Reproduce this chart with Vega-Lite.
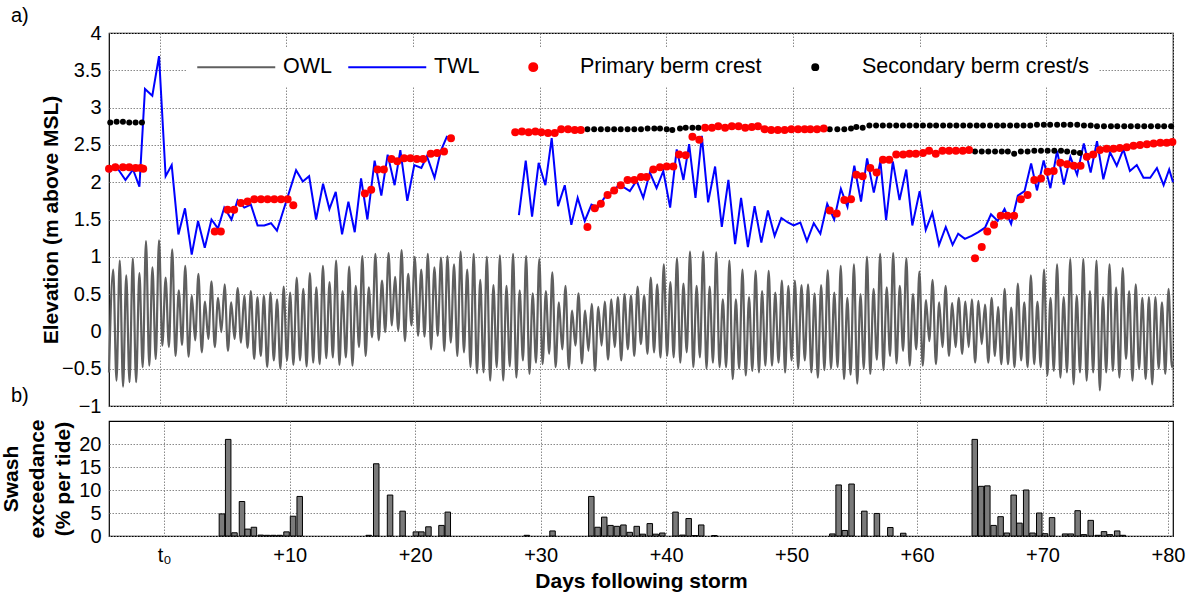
{
"$schema": "https://vega.github.io/schema/vega-lite/v6.json",
"background": "white",
"padding": {"left": 0, "top": 5, "right": 5, "bottom": 3},
"bounds": "flush",
"spacing": 15,
"datasets": {
"owl": [{"d":-4,"h":-0.55},
{"d":-3.67,"h":0.83},{"d":-3.41,"h":-0.66},{"d":-3.15,"h":0.95},{"d":-2.89,"h":-0.74},{"d":-2.64,"h":0.75},{"d":-2.38,"h":-0.68},{"d":-2.12,"h":0.98},{"d":-1.86,"h":-0.68},{"d":-1.6,"h":0.78},{"d":-1.34,"h":-0.48},{"d":-1.08,"h":1.21},{"d":-0.82,"h":-0.46},{"d":-0.57,"h":0.86},{"d":-0.31,"h":-0.37},{"d":-0.05,"h":1.22},{"d":0.21,"h":-0.19},{"d":0.47,"h":0.72},{"d":0.73,"h":-0.21},{"d":0.99,"h":1.1},{"d":1.25,"h":-0.33},{"d":1.51,"h":0.55},{"d":1.77,"h":-0.18},{"d":2.02,"h":0.88},{"d":2.28,"h":-0.34},{"d":2.54,"h":0.48},{"d":2.8,"h":-0.12},{"d":3.06,"h":0.77},{"d":3.32,"h":-0.28},{"d":3.58,"h":0.4},{"d":3.84,"h":-0.1},{"d":4.09,"h":0.67},{"d":4.35,"h":-0.21},{"d":4.61,"h":0.45},{"d":4.87,"h":-0.01},{"d":5.13,"h":0.63},{"d":5.39,"h":-0.26},{"d":5.65,"h":0.39},{"d":5.91,"h":-0.1},{"d":6.16,"h":0.58},{"d":6.42,"h":-0.15},{"d":6.68,"h":0.48},{"d":6.94,"h":-0.22},{"d":7.2,"h":0.54},{"d":7.46,"h":-0.37},{"d":7.72,"h":0.46},{"d":7.98,"h":-0.33},{"d":8.23,"h":0.48},{"d":8.49,"h":-0.48},{"d":8.75,"h":0.52},{"d":9.01,"h":-0.39},{"d":9.27,"h":0.43},{"d":9.53,"h":-0.5},{"d":9.79,"h":0.6},{"d":10.05,"h":-0.39},{"d":10.3,"h":0.52},{"d":10.56,"h":-0.45},{"d":10.82,"h":0.72},{"d":11.08,"h":-0.39},{"d":11.34,"h":0.57},{"d":11.6,"h":-0.47},{"d":11.86,"h":0.78},{"d":12.12,"h":-0.42},{"d":12.37,"h":0.59},{"d":12.63,"h":-0.44},{"d":12.89,"h":0.88},{"d":13.15,"h":-0.36},{"d":13.41,"h":0.66},{"d":13.67,"h":-0.35},{"d":13.93,"h":0.95},{"d":14.19,"h":-0.45},{"d":14.44,"h":0.54},{"d":14.7,"h":-0.35},{"d":14.96,"h":0.87},{"d":15.22,"h":-0.46},{"d":15.48,"h":0.61},{"d":15.74,"h":-0.21},{"d":16,"h":1.01},{"d":16.26,"h":-0.33},{"d":16.51,"h":0.59},{"d":16.77,"h":-0.08},{"d":17.03,"h":1.04},{"d":17.29,"h":-0.12},{"d":17.55,"h":0.68},{"d":17.81,"h":-0.01},{"d":18.07,"h":1.05},{"d":18.33,"h":0.08},{"d":18.58,"h":0.73},{"d":18.84,"h":0.01},{"d":19.1,"h":1.09},{"d":19.36,"h":-0.13},{"d":19.62,"h":0.77},{"d":19.88,"h":0.08},{"d":20.14,"h":1},{"d":20.4,"h":-0.06},{"d":20.65,"h":0.83},{"d":20.91,"h":-0.07},{"d":21.17,"h":1.04},{"d":21.43,"h":-0.24},{"d":21.69,"h":0.86},{"d":21.95,"h":-0.06},{"d":22.21,"h":0.99},{"d":22.47,"h":-0.26},{"d":22.72,"h":1.01},{"d":22.98,"h":-0.15},{"d":23.24,"h":0.9},{"d":23.5,"h":-0.33},{"d":23.76,"h":1.07},{"d":24.02,"h":-0.28},{"d":24.28,"h":0.83},{"d":24.54,"h":-0.48},{"d":24.79,"h":1.04},{"d":25.05,"h":-0.56},{"d":25.31,"h":0.69},{"d":25.57,"h":-0.55},{"d":25.83,"h":1},{"d":26.09,"h":-0.66},{"d":26.35,"h":0.62},{"d":26.61,"h":-0.48},{"d":26.86,"h":1.02},{"d":27.12,"h":-0.66},{"d":27.38,"h":0.61},{"d":27.64,"h":-0.47},{"d":27.9,"h":1.04},{"d":28.16,"h":-0.62},{"d":28.42,"h":0.55},{"d":28.68,"h":-0.39},{"d":28.93,"h":1.01},{"d":29.19,"h":-0.57},{"d":29.45,"h":0.51},{"d":29.71,"h":-0.42},{"d":29.97,"h":0.97},{"d":30.23,"h":-0.44},{"d":30.49,"h":0.54},{"d":30.75,"h":-0.3},{"d":31,"h":0.79},{"d":31.26,"h":-0.48},{"d":31.52,"h":0.39},{"d":31.78,"h":-0.24},{"d":32.04,"h":0.61},{"d":32.3,"h":-0.5},{"d":32.56,"h":0.28},{"d":32.82,"h":-0.19},{"d":33.07,"h":0.51},{"d":33.33,"h":-0.43},{"d":33.59,"h":0.28},{"d":33.85,"h":-0.26},{"d":34.11,"h":0.37},{"d":34.37,"h":-0.53},{"d":34.63,"h":0.33},{"d":34.89,"h":-0.19},{"d":35.14,"h":0.4},{"d":35.4,"h":-0.38},{"d":35.66,"h":0.43},{"d":35.92,"h":-0.21},{"d":36.18,"h":0.46},{"d":36.44,"h":-0.39},{"d":36.7,"h":0.5},{"d":36.96,"h":-0.24},{"d":37.21,"h":0.48},{"d":37.47,"h":-0.33},{"d":37.73,"h":0.6},{"d":37.99,"h":-0.17},{"d":38.25,"h":0.48},{"d":38.51,"h":-0.3},{"d":38.77,"h":0.72},{"d":39.03,"h":-0.28},{"d":39.28,"h":0.63},{"d":39.54,"h":-0.35},{"d":39.8,"h":0.9},{"d":40.06,"h":-0.33},{"d":40.32,"h":0.66},{"d":40.58,"h":-0.35},{"d":40.84,"h":0.98},{"d":41.1,"h":-0.42},{"d":41.35,"h":0.64},{"d":41.61,"h":-0.28},{"d":41.87,"h":1.07},{"d":42.13,"h":-0.48},{"d":42.39,"h":0.61},{"d":42.65,"h":-0.35},{"d":42.91,"h":1.07},{"d":43.17,"h":-0.5},{"d":43.42,"h":0.6},{"d":43.68,"h":-0.42},{"d":43.94,"h":1.06},{"d":44.2,"h":-0.48},{"d":44.46,"h":0.43},{"d":44.72,"h":-0.48},{"d":44.98,"h":0.95},{"d":45.24,"h":-0.64},{"d":45.49,"h":0.43},{"d":45.75,"h":-0.5},{"d":46.01,"h":0.83},{"d":46.27,"h":-0.59},{"d":46.53,"h":0.46},{"d":46.79,"h":-0.53},{"d":47.05,"h":0.81},{"d":47.31,"h":-0.55},{"d":47.56,"h":0.54},{"d":47.82,"h":-0.46},{"d":48.08,"h":0.81},{"d":48.34,"h":-0.46},{"d":48.6,"h":0.52},{"d":48.86,"h":-0.42},{"d":49.12,"h":0.68},{"d":49.38,"h":-0.55},{"d":49.63,"h":0.61},{"d":49.89,"h":-0.39},{"d":50.15,"h":0.68},{"d":50.41,"h":-0.5},{"d":50.67,"h":0.62},{"d":50.93,"h":-0.39},{"d":51.19,"h":0.63},{"d":51.45,"h":-0.55},{"d":51.7,"h":0.51},{"d":51.96,"h":-0.62},{"d":52.22,"h":0.62},{"d":52.48,"h":-0.52},{"d":52.74,"h":0.82},{"d":53,"h":-0.5},{"d":53.26,"h":0.52},{"d":53.52,"h":-0.48},{"d":53.77,"h":0.88},{"d":54.03,"h":-0.64},{"d":54.29,"h":0.45},{"d":54.55,"h":-0.58},{"d":54.81,"h":0.9},{"d":55.07,"h":-0.7},{"d":55.33,"h":0.5},{"d":55.59,"h":-0.5},{"d":55.84,"h":1},{"d":56.1,"h":-0.57},{"d":56.36,"h":0.57},{"d":56.62,"h":-0.38},{"d":56.88,"h":1.04},{"d":57.14,"h":-0.52},{"d":57.4,"h":0.59},{"d":57.66,"h":-0.33},{"d":57.91,"h":1.05},{"d":58.17,"h":-0.43},{"d":58.43,"h":0.61},{"d":58.69,"h":-0.26},{"d":58.95,"h":0.98},{"d":59.21,"h":-0.46},{"d":59.47,"h":0.5},{"d":59.73,"h":-0.24},{"d":59.98,"h":0.8},{"d":60.24,"h":-0.46},{"d":60.5,"h":0.42},{"d":60.76,"h":-0.13},{"d":61.02,"h":0.69},{"d":61.28,"h":-0.44},{"d":61.54,"h":0.39},{"d":61.8,"h":-0.21},{"d":62.05,"h":0.61},{"d":62.31,"h":-0.33},{"d":62.57,"h":0.38},{"d":62.83,"h":-0.21},{"d":63.09,"h":0.45},{"d":63.35,"h":-0.3},{"d":63.61,"h":0.4},{"d":63.87,"h":-0.21},{"d":64.12,"h":0.43},{"d":64.38,"h":-0.42},{"d":64.64,"h":0.41},{"d":64.9,"h":-0.17},{"d":65.16,"h":0.36},{"d":65.42,"h":-0.42},{"d":65.68,"h":0.45},{"d":65.94,"h":-0.33},{"d":66.19,"h":0.33},{"d":66.45,"h":-0.44},{"d":66.71,"h":0.57},{"d":66.97,"h":-0.44},{"d":67.23,"h":0.32},{"d":67.49,"h":-0.48},{"d":67.75,"h":0.64},{"d":68.01,"h":-0.39},{"d":68.26,"h":0.39},{"d":68.52,"h":-0.48},{"d":68.78,"h":0.75},{"d":69.04,"h":-0.44},{"d":69.3,"h":0.4},{"d":69.56,"h":-0.48},{"d":69.82,"h":0.83},{"d":70.08,"h":-0.59},{"d":70.33,"h":0.45},{"d":70.59,"h":-0.53},{"d":70.85,"h":0.9},{"d":71.11,"h":-0.62},{"d":71.37,"h":0.46},{"d":71.63,"h":-0.55},{"d":71.89,"h":0.97},{"d":72.15,"h":-0.71},{"d":72.4,"h":0.48},{"d":72.66,"h":-0.55},{"d":72.92,"h":0.97},{"d":73.18,"h":-0.66},{"d":73.44,"h":0.54},{"d":73.7,"h":-0.55},{"d":73.96,"h":0.95},{"d":74.22,"h":-0.79},{"d":74.47,"h":0.46},{"d":74.73,"h":-0.55},{"d":74.99,"h":0.9},{"d":75.25,"h":-0.53},{"d":75.51,"h":0.59},{"d":75.77,"h":-0.62},{"d":76.03,"h":0.85},{"d":76.29,"h":-0.37},{"d":76.54,"h":0.54},{"d":76.8,"h":-0.66},{"d":77.06,"h":0.63},{"d":77.32,"h":-0.5},{"d":77.58,"h":0.45},{"d":77.84,"h":-0.64},{"d":78.1,"h":0.46},{"d":78.36,"h":-0.71},{"d":78.61,"h":0.46},{"d":78.87,"h":-0.5},{"d":79.13,"h":0.39},{"d":79.39,"h":-0.57},{"d":79.65,"h":0.57},{"d":79.91,"h":-0.48},{"d":80,"h":-0.4}],
"twl": [{"d":-4,"h":2.13,"s":1},{"d":-3.5,"h":2.23,"s":1},{"d":-2.7,"h":2.03,"s":1},{"d":-2.1,"h":2.17,"s":1},{"d":-1.6,"h":1.94,"s":1},{"d":-1.16,"h":3.25,"s":1},{"d":-0.58,"h":3.16,"s":1},{"d":-0.05,"h":3.69,"s":1},{"d":0.47,"h":2.08,"s":1},{"d":0.95,"h":2.23,"s":1},{"d":1.48,"h":1.3,"s":1},{"d":2,"h":1.65,"s":1},{"d":2.53,"h":1.03,"s":1},{"d":3.03,"h":1.48,"s":1},{"d":3.56,"h":1.12,"s":1},{"d":4.09,"h":1.5,"s":1},{"d":4.6,"h":1.38,"s":1},{"d":5.1,"h":1.66,"s":1},{"d":5.67,"h":1.5,"s":1},{"d":6.15,"h":1.76,"s":1},{"d":6.68,"h":1.66,"s":1},{"d":7.2,"h":1.7,"s":1},{"d":7.73,"h":1.42,"s":1},{"d":8.26,"h":1.42,"s":1},{"d":8.79,"h":1.45,"s":1},{"d":9.26,"h":1.35,"s":1},{"d":10.77,"h":2.16,"s":1},{"d":11.3,"h":2.01,"s":1},{"d":11.8,"h":2.08,"s":1},{"d":12.35,"h":1.5,"s":1},{"d":12.9,"h":1.98,"s":1},{"d":13.4,"h":1.64,"s":1},{"d":13.9,"h":1.87,"s":1},{"d":14.4,"h":1.3,"s":1},{"d":14.9,"h":1.74,"s":1},{"d":15.4,"h":1.33,"s":1},{"d":15.9,"h":2.05,"s":1},{"d":16.4,"h":1.5,"s":1},{"d":16.97,"h":2.29,"s":1},{"d":17.5,"h":1.82,"s":1},{"d":18,"h":2.37,"s":1},{"d":18.55,"h":1.96,"s":1},{"d":19,"h":2.43,"s":1},{"d":19.55,"h":1.75,"s":1},{"d":20.1,"h":2.23,"s":1},{"d":20.66,"h":2.19,"s":1},{"d":21.1,"h":2.35,"s":1},{"d":21.7,"h":2.06,"s":1},{"d":22.2,"h":2.42,"s":1},{"d":22.7,"h":2.62,"s":1},
{"d":28.36,"h":1.56,"s":2},{"d":28.9,"h":2.29,"s":2},{"d":29.4,"h":1.54,"s":2},{"d":29.92,"h":2.26,"s":2},{"d":30.45,"h":1.96,"s":2},{"d":30.95,"h":2.59,"s":2},{"d":31.45,"h":1.68,"s":2},{"d":31.98,"h":1.96,"s":2},{"d":32.5,"h":1.43,"s":2},{"d":33,"h":1.79,"s":2},{"d":33.56,"h":1.48,"s":2},{"d":34.09,"h":1.7,"s":2},{"d":34.6,"h":1.66,"s":2},{"d":35.14,"h":1.8,"s":2},{"d":35.66,"h":1.86,"s":2},{"d":36.2,"h":1.95,"s":2},{"d":36.66,"h":1.93,"s":2},{"d":37.12,"h":1.88,"s":2},{"d":37.65,"h":2.02,"s":2},{"d":38.18,"h":1.79,"s":2},{"d":38.7,"h":2.13,"s":2},{"d":39.23,"h":1.92,"s":2},{"d":39.76,"h":2.15,"s":2},{"d":40.3,"h":1.66,"s":2},{"d":40.82,"h":2.44,"s":2},{"d":41.35,"h":2.03,"s":2},{"d":41.8,"h":2.51,"s":2},{"d":42.3,"h":1.79,"s":2},{"d":42.8,"h":2.62,"s":2},{"d":43.3,"h":1.73,"s":2},{"d":43.85,"h":2.21,"s":2},{"d":44.38,"h":1.4,"s":2},{"d":44.9,"h":2.03,"s":2},{"d":45.43,"h":1.17,"s":2},{"d":45.9,"h":1.79,"s":2},{"d":46.44,"h":1.13,"s":2},{"d":46.97,"h":1.68,"s":2},{"d":47.5,"h":1.19,"s":2},{"d":48.02,"h":1.62,"s":2},{"d":48.55,"h":1.28,"s":2},{"d":49.08,"h":1.52,"s":2},{"d":49.6,"h":1.46,"s":2},{"d":50.05,"h":1.42,"s":2},{"d":50.58,"h":1.46,"s":2},{"d":51.1,"h":1.21,"s":2},{"d":51.64,"h":1.45,"s":2},{"d":52.16,"h":1.31,"s":2},{"d":52.7,"h":1.71,"s":2},{"d":53.25,"h":1.5,"s":2},{"d":53.78,"h":1.91,"s":2},{"d":54.3,"h":1.67,"s":2},{"d":54.84,"h":2.22,"s":2},{"d":55.37,"h":1.74,"s":2},{"d":55.85,"h":2.32,"s":2},{"d":56.38,"h":1.86,"s":2},{"d":56.9,"h":2.28,"s":2},{"d":57.35,"h":1.49,"s":2},{"d":57.88,"h":2.28,"s":2},{"d":58.41,"h":1.76,"s":2},{"d":58.94,"h":2.17,"s":2},{"d":59.42,"h":1.42,"s":2},{"d":60,"h":1.88,"s":2},{"d":60.48,"h":1.36,"s":2},{"d":61,"h":1.59,"s":2},{"d":61.53,"h":1.16,"s":2},{"d":62.06,"h":1.4,"s":2},{"d":62.6,"h":1.16,"s":2},{"d":63.04,"h":1.31,"s":2},{"d":63.57,"h":1.24,"s":2},{"d":64.1,"h":1.28,"s":2},{"d":64.63,"h":1.33,"s":2},{"d":65.16,"h":1.39,"s":2},{"d":65.63,"h":1.57,"s":2},{"d":66.16,"h":1.48,"s":2},{"d":66.7,"h":1.64,"s":2},{"d":67.22,"h":1.44,"s":2},{"d":67.75,"h":1.82,"s":2},{"d":68.28,"h":1.88,"s":2},{"d":68.8,"h":2.25,"s":2},{"d":69.26,"h":1.89,"s":2},{"d":69.79,"h":2.29,"s":2},{"d":70.32,"h":1.92,"s":2},{"d":70.85,"h":2.42,"s":2},{"d":71.38,"h":1.97,"s":2},{"d":71.9,"h":2.34,"s":2},{"d":72.43,"h":2.1,"s":2},{"d":72.96,"h":2.52,"s":2},{"d":73.5,"h":2.13,"s":2},{"d":74,"h":2.55,"s":2},{"d":74.5,"h":2.04,"s":2},{"d":75.03,"h":2.4,"s":2},{"d":75.56,"h":2.22,"s":2},{"d":76.08,"h":2.44,"s":2},{"d":76.6,"h":2.15,"s":2},{"d":77.14,"h":2.23,"s":2},{"d":77.67,"h":2.06,"s":2},{"d":78.2,"h":2.06,"s":2},{"d":78.73,"h":2.19,"s":2},{"d":79.26,"h":1.96,"s":2},{"d":79.7,"h":2.17,"s":2},{"d":80,"h":2,"s":2}],
"pri": [{"d":-4,"h":2.18},{"d":-3.5,"h":2.2},{"d":-2.9,"h":2.2},{"d":-2.4,"h":2.2},{"d":-1.9,"h":2.19},{"d":-1.5,"h":2.19},{"d":-1.3,"h":2.18},
{"d":4.35,"h":1.34},{"d":4.83,"h":1.34},{"d":5.36,"h":1.63},{"d":5.88,"h":1.63},{"d":6.41,"h":1.72},{"d":6.94,"h":1.74},{"d":7.47,"h":1.77},{"d":8,"h":1.77},{"d":8.52,"h":1.77},{"d":9.05,"h":1.77},{"d":9.58,"h":1.77},{"d":10.1,"h":1.77},{"d":10.55,"h":1.69},
{"d":16.2,"h":1.85},{"d":16.7,"h":1.9},{"d":17.2,"h":2.17},{"d":17.7,"h":2.17},{"d":18.3,"h":2.31},{"d":18.76,"h":2.28},{"d":19.3,"h":2.32},{"d":19.8,"h":2.32},{"d":20.3,"h":2.31},{"d":20.8,"h":2.31},{"d":21.4,"h":2.38},{"d":21.9,"h":2.39},{"d":22.45,"h":2.41},{"d":23,"h":2.59},
{"d":28.07,"h":2.67},{"d":28.6,"h":2.68},{"d":29.13,"h":2.67},{"d":29.66,"h":2.68},{"d":30.13,"h":2.67},{"d":30.66,"h":2.66},{"d":31.19,"h":2.66},{"d":31.7,"h":2.71},{"d":32.24,"h":2.71},{"d":32.77,"h":2.7},{"d":33.25,"h":2.7},
{"d":33.77,"h":1.4},{"d":34.35,"h":1.65},{"d":34.83,"h":1.71},{"d":35.36,"h":1.83},{"d":35.88,"h":1.89},{"d":36.4,"h":1.96},{"d":36.94,"h":2.03},{"d":37.47,"h":2.03},{"d":38,"h":2.07},{"d":38.44,"h":2.07},{"d":38.97,"h":2.17},{"d":39.5,"h":2.2},{"d":40.03,"h":2.21},{"d":40.55,"h":2.21},{"d":41,"h":2.37},{"d":41.53,"h":2.36},{"d":42.06,"h":2.61},{"d":42.6,"h":2.57},
{"d":43.06,"h":2.73},{"d":43.6,"h":2.73},{"d":44.1,"h":2.75},{"d":44.64,"h":2.73},{"d":45.17,"h":2.75},{"d":45.7,"h":2.75},{"d":46.23,"h":2.73},{"d":46.75,"h":2.74},{"d":47.23,"h":2.75},{"d":47.76,"h":2.71},{"d":48.28,"h":2.7},{"d":48.8,"h":2.7},{"d":49.34,"h":2.7},{"d":49.87,"h":2.71},{"d":50.4,"h":2.71},{"d":50.92,"h":2.71},{"d":51.37,"h":2.71},{"d":51.9,"h":2.71},{"d":52.43,"h":2.72},
{"d":52.9,"h":1.62},{"d":53.45,"h":1.58},{"d":54.05,"h":1.76},{"d":54.58,"h":1.77},{"d":55,"h":2.1},{"d":55.5,"h":2.08},{"d":56.1,"h":2.19},{"d":56.6,"h":2.13},{"d":57.1,"h":2.3},{"d":57.6,"h":2.3},{"d":58.15,"h":2.37},{"d":58.7,"h":2.37},{"d":59.2,"h":2.38},{"d":59.7,"h":2.38},{"d":60.26,"h":2.39},{"d":60.74,"h":2.42},{"d":61.27,"h":2.38},{"d":61.8,"h":2.42},{"d":62.33,"h":2.42},{"d":62.86,"h":2.42},{"d":63.4,"h":2.42},{"d":63.9,"h":2.43},
{"d":64.37,"h":0.98},{"d":64.9,"h":1.13},{"d":65.34,"h":1.34},{"d":65.87,"h":1.43},{"d":66.4,"h":1.55},{"d":66.93,"h":1.55},{"d":67.46,"h":1.55},{"d":67.99,"h":1.77},{"d":68.52,"h":1.83},{"d":69.05,"h":2.03},{"d":69.58,"h":2.05},{"d":70.1,"h":2.14},{"d":70.58,"h":2.15},{"d":71.1,"h":2.26},{"d":71.64,"h":2.24},{"d":72.17,"h":2.22},{"d":72.7,"h":2.22},{"d":73.2,"h":2.34},{"d":73.7,"h":2.37},{"d":74.23,"h":2.43},{"d":74.76,"h":2.45},{"d":75.3,"h":2.45},{"d":75.8,"h":2.46},{"d":76.35,"h":2.47},{"d":76.88,"h":2.49},{"d":77.4,"h":2.5},{"d":77.94,"h":2.51},{"d":78.47,"h":2.52},{"d":79,"h":2.53},{"d":79.5,"h":2.53},{"d":79.95,"h":2.54}],
"sec": [{"d":-3.9,"h":2.8},{"d":-3.4,"h":2.81},{"d":-2.9,"h":2.81},{"d":-2.4,"h":2.8},{"d":-1.9,"h":2.8},{"d":-1.4,"h":2.8},
{"d":33.77,"h":2.71},{"d":34.3,"h":2.71},{"d":34.83,"h":2.71},{"d":35.36,"h":2.71},{"d":35.88,"h":2.71},{"d":36.4,"h":2.71},{"d":36.94,"h":2.71},{"d":37.47,"h":2.71},{"d":38,"h":2.71},{"d":38.52,"h":2.72},{"d":39.05,"h":2.72},{"d":39.5,"h":2.72},{"d":40.03,"h":2.71},{"d":40.47,"h":2.7},{"d":41.08,"h":2.72},{"d":41.53,"h":2.73},{"d":42.06,"h":2.73},{"d":42.53,"h":2.73},
{"d":52.9,"h":2.71},{"d":53.5,"h":2.71},{"d":54.05,"h":2.71},{"d":54.58,"h":2.72},{"d":55,"h":2.74},{"d":55.5,"h":2.73},
{"d":56.03,"h":2.76},{"d":56.56,"h":2.76},{"d":57.09,"h":2.76},{"d":57.62,"h":2.76},{"d":58.15,"h":2.76},{"d":58.68,"h":2.76},{"d":59.2,"h":2.76},{"d":59.73,"h":2.76},{"d":60.26,"h":2.76},{"d":60.8,"h":2.76},{"d":61.3,"h":2.76},{"d":61.85,"h":2.76},{"d":62.38,"h":2.76},{"d":62.9,"h":2.76},{"d":63.44,"h":2.76},{"d":63.97,"h":2.76},{"d":64.5,"h":2.76},{"d":65,"h":2.76},{"d":65.56,"h":2.76},{"d":66.1,"h":2.76},{"d":66.6,"h":2.76},{"d":67.14,"h":2.76},{"d":67.67,"h":2.76},{"d":68.2,"h":2.76},{"d":68.73,"h":2.76},{"d":69.26,"h":2.77},{"d":69.8,"h":2.77},{"d":70.3,"h":2.77},{"d":70.85,"h":2.77},{"d":71.38,"h":2.77},{"d":71.9,"h":2.77},{"d":72.44,"h":2.77},{"d":72.97,"h":2.76},{"d":73.5,"h":2.76},{"d":74,"h":2.75},{"d":74.55,"h":2.75},{"d":75.1,"h":2.75},{"d":75.6,"h":2.75},{"d":76.15,"h":2.75},{"d":76.67,"h":2.75},{"d":77.2,"h":2.75},{"d":77.73,"h":2.75},{"d":78.26,"h":2.75},{"d":78.8,"h":2.75},{"d":79.3,"h":2.75},{"d":79.85,"h":2.75},
{"d":64.37,"h":2.41},{"d":64.9,"h":2.41},{"d":65.42,"h":2.41},{"d":65.95,"h":2.41},{"d":66.48,"h":2.41},{"d":66.96,"h":2.41},{"d":67.46,"h":2.38},{"d":67.99,"h":2.41},{"d":68.52,"h":2.41},{"d":69.05,"h":2.42},{"d":69.58,"h":2.42},{"d":70.1,"h":2.42},{"d":70.63,"h":2.42},{"d":71.16,"h":2.42},{"d":71.64,"h":2.41},{"d":72.17,"h":2.4},{"d":72.65,"h":2.39}],
"swash": [{"d":4.6,"v":4.8},{"d":5.1,"v":21},{"d":5.6,"v":0.7},{"d":6.2,"v":7.5},{"d":6.65,"v":1.5},{"d":7.15,"v":1.9},{"d":7.7,"v":0.2},{"d":8.2,"v":0.15},{"d":8.7,"v":0.15},{"d":9.2,"v":0.15},{"d":9.75,"v":0.9},{"d":10.27,"v":4.3},{"d":10.8,"v":8.6},
{"d":16.3,"v":0.15},{"d":16.9,"v":15.7},{"d":18,"v":8.9},{"d":19,"v":5.4},{"d":20.06,"v":0.9},{"d":20.5,"v":0.9},{"d":21.06,"v":2},{"d":22.1,"v":2.3},{"d":22.6,"v":5.2},
{"d":28.9,"v":0.15},{"d":30.95,"v":1.1},{"d":34.04,"v":8.6},{"d":34.54,"v":1.9},{"d":35.07,"v":4.1},{"d":35.57,"v":2.3},{"d":36.08,"v":2.1},{"d":36.6,"v":2.4},{"d":37.1,"v":0.8},{"d":37.66,"v":2.1},{"d":38.14,"v":0.4},{"d":38.7,"v":2.7},{"d":39.17,"v":0.4},{"d":39.7,"v":0.65},{"d":40.75,"v":5.2},{"d":41.3,"v":0.2},{"d":41.8,"v":3.8},{"d":42.3,"v":0.1},{"d":42.8,"v":2.4},{"d":43.85,"v":0.1},
{"d":53.25,"v":0.45},{"d":53.75,"v":11.1},{"d":54.25,"v":1.2},{"d":54.78,"v":11.3},{"d":55.8,"v":5.4},{"d":56.8,"v":4.9},{"d":57.87,"v":1.85},{"d":58.9,"v":0.6},
{"d":64.6,"v":21},{"d":65.1,"v":10.8},{"d":65.6,"v":10.9},{"d":66.1,"v":2.3},{"d":66.66,"v":4.2},{"d":67.16,"v":0.65},{"d":67.7,"v":8.9},{"d":68.16,"v":2.8},{"d":68.7,"v":10},{"d":69.2,"v":0.65},{"d":69.74,"v":5},{"d":70.2,"v":0.5},{"d":70.76,"v":4},{"d":71.8,"v":0.45},{"d":72.26,"v":0.45},{"d":72.8,"v":5.5},{"d":73.3,"v":0.3},{"d":73.84,"v":3.4},{"d":74.4,"v":0.15},{"d":74.9,"v":0.95},{"d":75.37,"v":0.3},{"d":75.95,"v":1.1},{"d":76.4,"v":0.15}]
},
"vconcat": [
{
"width": 1064, "height": 373,
"title": {"text": "a)", "anchor": "start", "frame": "group", "dx": -98, "offset": -19, "baseline": "alphabetic", "fontSize": 20, "fontWeight": "normal", "font": "Liberation Sans", "color": "#000"},
"layer": [
{"data": {"name": "owl"},
 "mark": {"type": "line", "strokeWidth": 2.2, "interpolate": "monotone"},
 "encoding": {
  "x": {"field": "d", "type": "quantitative", "scale": {"domain": [-4, 80], "nice": false, "zero": false},
        "axis": {"values": [0,10,20,30,40,50,60,70,80], "tickCount": 30, "labels": false, "title": null, "grid": true}},
  "y": {"field": "h", "type": "quantitative", "scale": {"domain": [-1, 4], "nice": false, "zero": false},
        "axis": {"values": [-1,-0.5,0,0.5,1,1.5,2,2.5,3,3.5,4], "tickCount": 30, "format": "~g", "labelOverlap": false, "title": "Elevation (m above MSL)", "titlePadding": 0, "grid": true}},
  "color": {"datum": "OWL", "type": "nominal",
    "scale": {"domain": ["OWL", "TWL", "Primary berm crest", "Secondary berm crest/s"], "range": ["#5f5f5f", "#0000ff", "#ff0000", "#000000"]},
    "legend": {"title": null, "orient": "none", "legendX": 78, "legendY": 15, "direction": "horizontal",
      "symbolSize": 324, "symbolStrokeWidth": 2, "symbolOffset": 30.5, "labelFontSize": 21.5, "labelOffset": 36, "columnPadding": 12,
      "padding": 8, "fillColor": "#ffffff", "labelColor": "#000", "labelFont": "Liberation Sans", "labelLimit": 0,
      "encode": {"symbols": {"update": {
        "shape": {"signal": "datum.value == 'OWL' || datum.value == 'TWL' ? 'M-4.333,0H4.333' : (datum.value == 'Primary berm crest' ? 'M0.444,0A0.444,0.444,0,1,1,-0.444,0A0.444,0.444,0,1,1,0.444,0Z' : 'M0.333,0A0.333,0.333,0,1,1,-0.333,0A0.333,0.333,0,1,1,0.333,0Z')"},
        "fill": {"signal": "datum.value == 'Primary berm crest' ? '#ff0000' : (datum.value == 'Secondary berm crest/s' ? '#000000' : 'transparent')"},
        "stroke": {"signal": "datum.value == 'OWL' ? '#5f5f5f' : (datum.value == 'TWL' ? '#0000ff' : 'transparent')"},
        "strokeWidth": {"value": 2},
        "opacity": {"value": 1}
      }}}}}
 }},
{"data": {"name": "twl"},
 "mark": {"type": "line", "strokeWidth": 2},
 "encoding": {
  "x": {"field": "d", "type": "quantitative"},
  "y": {"field": "h", "type": "quantitative"},
  "detail": {"field": "s", "type": "nominal"},
  "color": {"datum": "TWL", "type": "nominal"}
 }},
{"data": {"name": "sec"},
 "mark": {"type": "point", "filled": true, "shape": "circle", "size": 36, "opacity": 1},
 "encoding": {
  "x": {"field": "d", "type": "quantitative"},
  "y": {"field": "h", "type": "quantitative"},
  "color": {"datum": "Secondary berm crest/s", "type": "nominal"}
 }},
{"data": {"name": "pri"},
 "mark": {"type": "point", "filled": true, "shape": "circle", "size": 64, "opacity": 1},
 "encoding": {
  "x": {"field": "d", "type": "quantitative"},
  "y": {"field": "h", "type": "quantitative"},
  "color": {"datum": "Primary berm crest", "type": "nominal"}
 }}
]
},
{
"width": 1064, "height": 115,
"title": {"text": "b)", "anchor": "start", "frame": "group", "dx": -98, "offset": -3, "baseline": "alphabetic", "fontSize": 20, "fontWeight": "normal", "font": "Liberation Sans", "color": "#000"},
"data": {"name": "swash"},
"mark": {"type": "bar", "orient": "vertical", "size": 5.5, "fill": "#7a7a7a", "stroke": "#000", "strokeWidth": 1},
"encoding": {
  "x": {"field": "d", "type": "quantitative", "scale": {"domain": [-4, 80], "nice": false, "zero": false},
        "axis": {"values": [0,10,20,30,40,50,60,70,80], "tickCount": 30, "labelExpr": "datum.value == 0 ? 't₀' : '+' + datum.value", "labelOverlap": false, "title": "Days following storm", "labelPadding": 9, "titlePadding": 5, "grid": true}},
  "y": {"field": "v", "type": "quantitative", "scale": {"domain": [0, 25], "nice": false, "zero": true},
        "axis": {"values": [0,5,10,15,20], "tickCount": 30, "labelOverlap": false, "title": ["Swash", "exceedance", "(% per tide)"], "titleLineHeight": 26, "titlePadding": 5, "grid": true}}
}
}
],
"config": {
  "font": "Liberation Sans",
  "view": {"stroke": "#000", "strokeWidth": 1.2},
  "axis": {"labelFontSize": 20, "titleFontSize": 21, "titleFontWeight": "bold", "labelColor": "#000", "titleColor": "#000",
           "gridColor": "#8a8a8a", "gridDash": [1.5, 1.5], "gridWidth": 1, "ticks": false, "domain": false, "labelPadding": 8,
           "labelOverlap": false, "labelFlush": false, "labelBound": false,
           "labelFont": "Liberation Sans", "titleFont": "Liberation Sans"}
}
}
